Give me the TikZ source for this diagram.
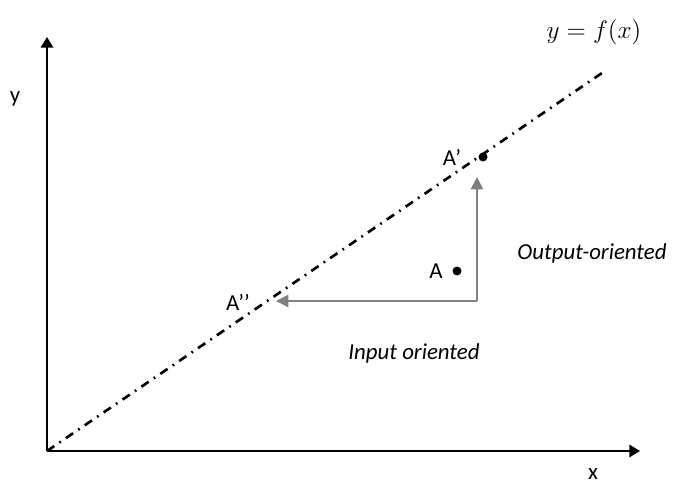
\documentclass[tikz,border=0pt]{standalone}
\usepackage{fontspec}
\setmainfont{Carlito}
\usetikzlibrary{arrows.meta}
\tikzset{
  eje/.style={line width=1.1pt,-{Triangle[length=6pt,width=7pt]}},
  proy/.style={gray,line width=0.9pt,-{Triangle[length=7pt,width=7pt]}},
  punto/.style={circle,fill=black,inner sep=0pt,minimum size=1.8mm},
  etiq/.style={font=\fontsize{13}{15}\selectfont},
}
\begin{document}
\begin{tikzpicture}[x=0.02cm,y=-0.02cm]
\useasboundingbox (0,0) rectangle (682,486);
% ejes
\coordinate (O) at (47,451);
\coordinate (xfin) at (640,451);
\coordinate (yfin) at (47,37);
\draw[eje] (O) -- (xfin);
\draw[eje] (O) -- (yfin);
\node[etiq,inner sep=1pt] (xlab) at (593,474) {x};
\node[etiq] (ylab) at (15,99) {y};
% frontera y=f(x)
\coordinate (ffin) at (602,73);
\draw[line width=1.5pt,dash pattern=on 5pt off 3.5pt on 1pt off 3.5pt] (O) -- (ffin);
\node[font=\fontsize{14.5}{17}\selectfont] (flab) at (594,32) {$y=f(x)$};
% puntos
\node[punto] (A) at (457,271) {};
\node[punto] (Ap) at (483,157) {};
\node[etiq] (Alab) at (436,271) {A};
\node[etiq] (Aplab) at (452,157) {A’};
\node[etiq] (Applab) at (238,302) {A’’};
% proyecciones
\coordinate (esq) at (477,301);
\coordinate (arr) at (477,177);
\coordinate (izq) at (276,301);
\draw[proy] (esq) -- (arr);
\draw[proy] (esq) -- (izq);
\node[etiq,font=\fontsize{13}{15}\selectfont\itshape] (out) at (592,253) {Output-oriented};
\node[etiq,font=\fontsize{13}{15}\selectfont\itshape] (inp) at (414,353) {Input oriented};
\end{tikzpicture}
\end{document}
